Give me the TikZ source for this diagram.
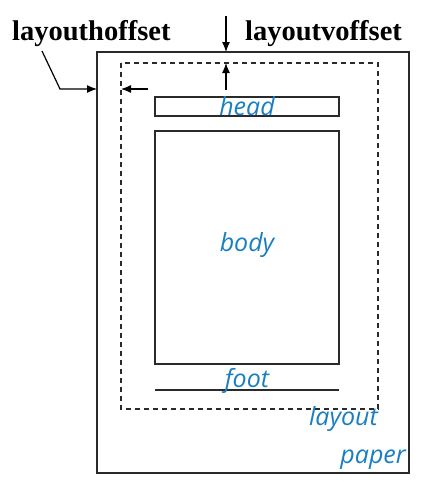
\documentclass[tikz,border=0pt]{standalone}
\usepackage{fontspec}
\setmainfont{Liberation Serif}
\newfontfamily\bluefont{Open Sans}
\usetikzlibrary{arrows.meta}
\definecolor{lblue}{HTML}{1A7FC1}
\definecolor{lgray}{HTML}{2A2A2A}
\tikzset{
  box/.style={draw=lgray, line width=1.2pt},
  dashbox/.style={draw=lgray, line width=1.2pt, dash pattern=on 5pt off 4pt},
  lbl/.style={text=lblue, font=\bluefont\itshape\fontsize{25}{25}\selectfont, inner sep=0pt},
  ttl/.style={font=\bfseries\fontsize{28.5}{28.5}\selectfont, inner sep=0pt},
  arr/.style={draw=black, line width=1.2pt, -{Latex[length=10pt,width=8pt]}},
}
\begin{document}
\begin{tikzpicture}[x=1pt,y=-1pt]
\useasboundingbox (0,0) rectangle (430,488);
\draw[box] (97,52) rectangle (409,473);
\draw[dashbox] (121,63) rectangle (378,409);
\draw[box] (155,97) rectangle (339,116);
\draw[box] (155,131) rectangle (339,364);
\draw[box] (155,390) -- (339,390);
\node[lbl] (head) at (247,106) {head};
\node[lbl] (body) at (247,245) {body};
\node[lbl] (foot) at (247,381) {foot};
\node[lbl, anchor=east] (layout) at (378,419) {layout};
\node[lbl, anchor=east] (paper) at (406,460) {paper};
\node[ttl, anchor=base west] (ho) at (12,40) {layouthoffset};
\node[ttl, anchor=base west] (vo) at (245,40) {layoutvoffset};
\coordinate (papertop) at (226,52);
\coordinate (laytop) at (226,63);
\coordinate (paperleft) at (97,89);
\coordinate (layleft) at (121,89);
\coordinate (vstart) at (226,16);
\coordinate (vup) at (226,90);
\coordinate (hbend) at (60,89);
\coordinate (hstart) at (42,51);
\coordinate (hin) at (148,89);
\draw[arr] (vstart) -- (papertop);
\draw[arr] (vup) -- (laytop);
\draw[arr] (hstart) -- (hbend) -- (paperleft);
\draw[arr] (hin) -- (layleft);
\end{tikzpicture}
\end{document}
